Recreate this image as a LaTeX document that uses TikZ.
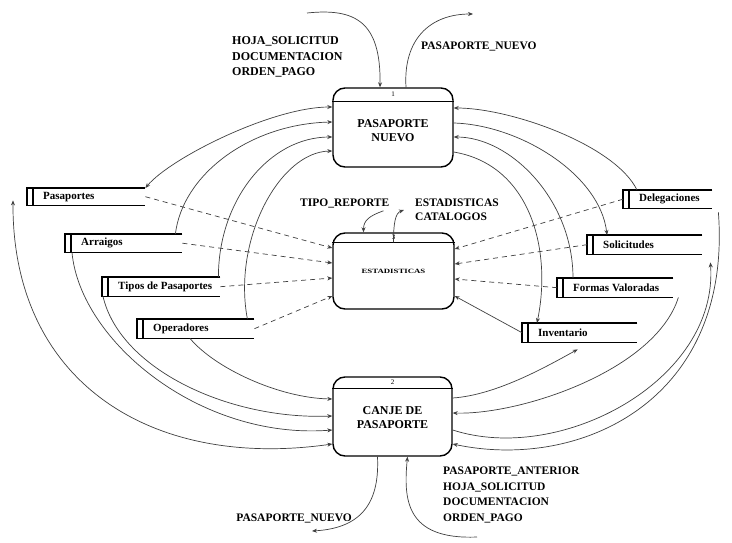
\documentclass[tikz,border=0pt]{standalone}
\usepackage{fontspec}
\setmainfont{Liberation Serif}
\usetikzlibrary{arrows.meta,calc}

\tikzset{
  proc/.style={draw, line width=1.4pt, rounded corners=12pt, inner sep=0pt},
  proctxt/.style={align=center, inner sep=0pt, font=\bfseries\fontsize{12}{14}\selectfont},
  divider/.style={line width=1.2pt},
  num/.style={font=\fontsize{7}{7}\selectfont, inner sep=0pt},
  storeframe/.style={inner sep=0pt, draw=none},
  storetxt/.style={font=\bfseries\fontsize{11}{12}\selectfont, inner sep=0pt, anchor=west},
  storeln/.style={line width=1.3pt},
  tip/.tip={Stealth[length=5pt,width=4pt]},
  flow/.style={line width=0.7pt, draw=black!75, -tip},
  bflow/.style={flow, tip-tip},
  dflow/.style={flow, dash pattern=on 5pt off 4pt},
  lbl/.style={font=\bfseries\fontsize{11.5}{15.5}\selectfont, align=left, inner sep=0pt},
}

% data store: name, left x, top y, width, height, text
\newcommand\DataStore[6]{%
  \node[storeframe, anchor=north west, minimum width=#4pt, minimum height=#5pt] (#1) at (#2,#3) {};
  \draw[storeln] (#1.north east) -- (#1.north west) -- (#1.south west) -- (#1.south east);
  \draw[storeln] ([xshift=6pt]#1.north west) -- ([xshift=6pt]#1.south west);
  \node[storetxt] at ([xshift=16pt]#1.west) {#6};
}

\begin{document}
\begin{tikzpicture}[x=1pt,y=-1pt]
\fill[white] (0,0) rectangle (732,543);
\useasboundingbox (0,0) rectangle (732,543);

% processes
\node[proc, minimum width=120pt, minimum height=79pt] (p1) at (393,127.5) {};
\draw[divider] ([yshift=-14pt]p1.north west) -- ([yshift=-14pt]p1.north east);
\node[num] at ([yshift=-7pt]p1.north) {1};
\node[proctxt] at ([yshift=-3pt]p1.center) {PASAPORTE\\NUEVO};

\node[proc, minimum width=121pt, minimum height=76pt] (p3) at (393.5,271) {};
\draw[divider] ([yshift=-10pt]p3.north west) -- ([yshift=-10pt]p3.north east);
\node[num] at ([yshift=-5pt]p3.north) {3};
\node[proctxt, font=\bfseries\fontsize{6.5}{7}\selectfont] at (p3.center) {\scalebox{1.35}[1]{ESTADISTICAS}};

\node[proc, minimum width=119pt, minimum height=79pt] (p2) at (392.5,416.5) {};
\draw[divider] ([yshift=-12pt]p2.north west) -- ([yshift=-12pt]p2.north east);
\node[num] at ([yshift=-6pt]p2.north) {2};
\node[proctxt] at ([yshift=-1.5pt]p2.center) {CANJE DE\\PASAPORTE};

% data stores
\DataStore{pas}{27}{188}{118}{17}{Pasaportes}
\DataStore{arr}{65}{234}{117}{18}{Arraigos}
\DataStore{tip}{102}{277}{118}{19}{Tipos de Pasaportes}
\DataStore{ope}{137}{319}{117}{19}{Operadores}
\DataStore{del}{623}{190}{89}{18}{Delegaciones}
\DataStore{sol}{587}{235}{115}{19}{Solicitudes}
\DataStore{fv}{557}{278}{116}{19}{Formas Valoradas}
\DataStore{inv}{522}{323}{115}{19}{Inventario}

% flows between PASAPORTE NUEVO and the stores
\draw[bflow] ([yshift=20.5pt]p1.west) .. controls +(-60,0) and +(25,-30) .. (pas.north east);
\draw[flow] ([xshift=-7pt]arr.north east) .. controls +(7,-59) and +(-83,2) .. ([yshift=5.5pt]p1.west);
\draw[flow] ([xshift=-2pt]tip.north east) .. controls +(0,-77) and +(-63,0) .. ([yshift=-9.5pt]p1.west);
\draw[flow] ([xshift=-7pt]ope.north east) .. controls +(-15,-79) and +(-53,1) .. ([yshift=-23.5pt]p1.west);
\draw[flow] ([xshift=14pt]del.north west) .. controls +(-22,-45) and +(57,0) .. ([yshift=19.5pt]p1.east);
\draw[flow] ([yshift=4.5pt]p1.east) .. controls +(67,2) and +(-7,-60) .. ([xshift=20pt]sol.north west);
\draw[flow] ([xshift=16pt]fv.north west) .. controls +(0,-78) and +(57,0) .. ([yshift=-9.5pt]p1.east);
\draw[flow] ([yshift=-24.5pt]p1.east) .. controls +(77,13) and +(15,-73) .. ([xshift=15pt]inv.north west);

% flows between CANJE DE PASAPORTE and the stores
\draw[flow] ([xshift=53pt]ope.south west) .. controls +(25,30) and +(-53,-1) .. ([yshift=17.5pt]p2.west);
\draw[flow] ([xshift=1pt]tip.south west) .. controls +(17,73) and +(-103,4) .. ([yshift=0.5pt]p2.west);
\draw[flow] ([xshift=7pt]arr.south west) .. controls +(8,88) and +(-133,10) .. ([yshift=-13.5pt]p2.west);
\draw[bflow] ([yshift=-27.5pt]p2.west) .. controls +(-183,26) and +(-1,180) .. ([xshift=-14pt,yshift=5pt]pas.south west);
\draw[flow] ([yshift=18.5pt]p2.east) .. controls +(45,-3) and +(-27.5,15) .. ([xshift=-2pt,yshift=-7pt]inv.south);
\draw[flow] ([xshift=5pt]fv.south east) .. controls +(-23,73) and +(68,2) .. ([yshift=3.5pt]p2.east);
\draw[flow] ([yshift=-13.5pt]p2.east) .. controls +(108,35) and +(8,118) .. ([xshift=8pt,yshift=-8pt]sol.south east);
\draw[flow] ([xshift=6pt,yshift=-4pt]del.south east) .. controls +(14,188) and +(128,27) .. ([yshift=-27.5pt]p2.east);

% flows into ESTADISTICAS
\draw[dflow] (pas.east) -- ([yshift=23pt]p3.west);
\draw[dflow] (arr.east) -- ([yshift=8pt]p3.west);
\draw[dflow] (tip.east) -- ([yshift=-7pt]p3.west);
\draw[dflow] (ope.east) -- ([yshift=-25pt]p3.west);
\draw[dflow] (del.west) -- ([yshift=22pt]p3.east);
\draw[dflow] (sol.west) -- ([yshift=7pt]p3.east);
\draw[dflow] (fv.west) -- ([yshift=-8pt]p3.east);
\draw[flow] (inv.west) -- ([yshift=-25pt]p3.east);

% external flows and their labels
\node[lbl, anchor=west, font=\bfseries\fontsize{12}{15.5}\selectfont] (lblin) at (232,57) {HOJA\_SOLICITUD\\DOCUMENTACION\\ORDEN\_PAGO};
\node[lbl, anchor=west] (lblout) at (421,46) {PASAPORTE\_NUEVO};
\coordinate (inTop) at (307,13);
\coordinate (outTop) at (473,14);
\draw[flow] (inTop) .. controls +(48,-5) and +(1,-66) .. ([xshift=-13pt]p1.north);
\draw[flow] ([xshift=13pt]p1.north) .. controls +(-3,-48) and +(-43,0) .. (outTop);

\node[lbl, anchor=west] (lbltr) at (300,203) {TIPO\_REPORTE};
\node[lbl, anchor=west, font=\bfseries\fontsize{11.5}{14}\selectfont] (lblest) at (415,210) {ESTADISTICAS\\CATALOGOS};
\draw[flow] ([xshift=-6pt,yshift=-3pt]lbltr.south east) .. controls +(-14,5) and +(0,-12) .. ([xshift=-30pt]p3.north);
\draw[flow] ([yshift=-10pt]p3.north) .. controls +(0,-18) and +(-9,3) .. ([xshift=-11pt]lblest.west);

\node[lbl, anchor=west] (lblcanje) at (443,495) {PASAPORTE\_ANTERIOR\\HOJA\_SOLICITUD\\DOCUMENTACION\\ORDEN\_PAGO};
\node[lbl, anchor=east] (lblnew2) at (352,518) {PASAPORTE\_NUEVO};
\coordinate (inBot) at (477,537);
\coordinate (outBot) at (312,531);
\draw[flow] ([xshift=-15pt]p2.south) .. controls +(2,42) and +(53,-3) .. (outBot);
\draw[flow] (inBot) .. controls +(-72,3) and +(-4,42) .. ([xshift=15pt]p2.south);
\end{tikzpicture}
\end{document}
